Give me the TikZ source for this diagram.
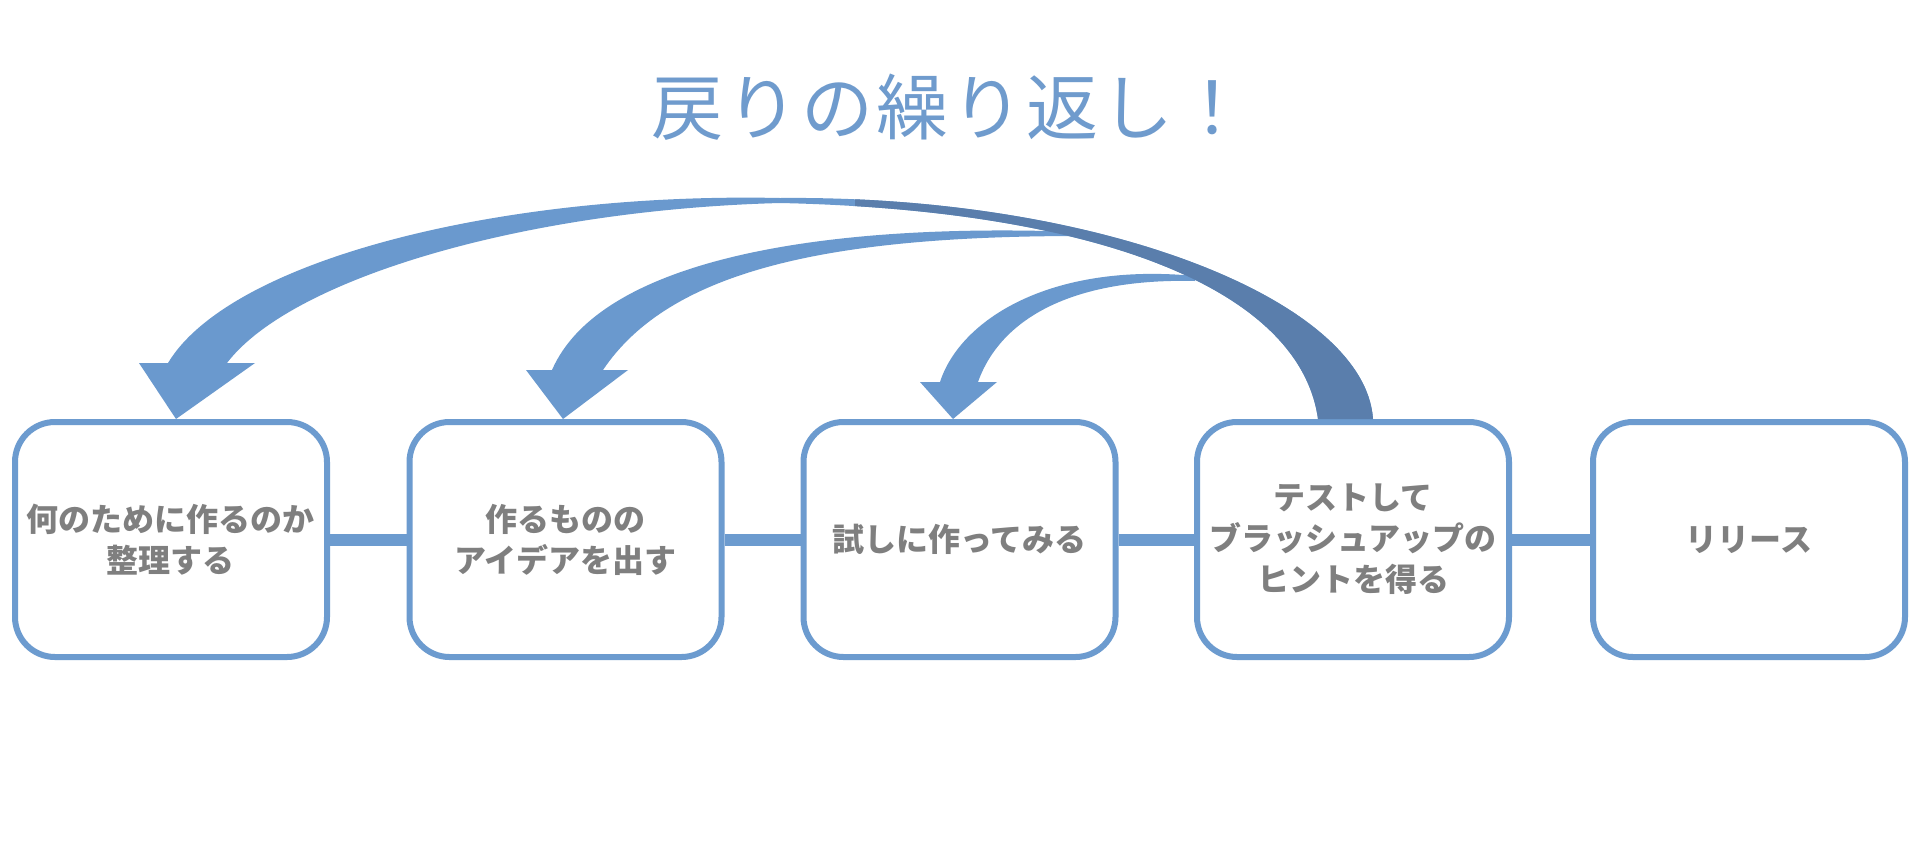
\documentclass[tikz,border=0pt]{standalone}
\usepackage{fontspec}
\newfontfamily\jp{Noto Sans CJK JP}
\definecolor{lightc}{HTML}{6A99CE}
\definecolor{darkc}{HTML}{5A7EAC}
\definecolor{boxc}{HTML}{6C9BCF}
\definecolor{textc}{HTML}{7F7F7F}
\definecolor{titlec}{HTML}{6F9BCD}
\def\pathAone{(1373,419) .. controls (1365,300) and (1100,195) .. (780,198)
 .. controls (500,192) and (230,260) .. (168,363)
 -- (139,363) -- (176,419) -- (255,363) -- (227,363)
 .. controls (290,280) and (520,210) .. (780,203)
 .. controls (1100,210) and (1300,290) .. (1318,419)
 -- cycle}
\begin{document}
\begin{tikzpicture}[x=1pt,y=-1pt,
  stepbox/.style={draw=boxc, line width=6pt, rounded corners=40pt, fill=white,
    minimum width=312pt, minimum height=235pt, inner sep=0pt, align=center,
    text=textc, font=\jp\bfseries\fontsize{32}{41}\selectfont},
  link/.style={draw=boxc, line width=12pt},
  lightarrow/.style={fill=lightc},
  darkarrow/.style={fill=darkc},
]
\fill[white] (0,0) rectangle (1915,847);
\useasboundingbox (0,0) rectangle (1915,847);

\node[text=titlec, font=\jp\fontsize{72}{80}\selectfont] (title) at (950,107)
  {戻\kern3pt り\kern3pt の\kern3pt 繰\kern3pt り\kern3pt 返\kern3pt し\kern3pt ！};

\node[stepbox] (b1) at (171,539.5) {何のために作るのか\\整理する};
\node[stepbox] (b2) at (565.5,539.5) {作るものの\\アイデアを出す};
\node[stepbox] (b3) at (959.5,539.5) {試しに作ってみる};
\node[stepbox] (b4) at (1353,539.5) {テストして\\ブラッシュアップの\\ヒントを得る};
\node[stepbox] (b5) at (1749,539.5) {リリース};

\draw[link] (b1.east) -- (b2.west);
\draw[link] (b2.east) -- (b3.west);
\draw[link] (b3.east) -- (b4.west);
\draw[link] (b4.east) -- (b5.west);

% big arrow to b1
\fill[lightarrow] \pathAone;
% arrow to b2
\fill[lightarrow] (1080,232) .. controls (820,222) and (600,260) .. (552,370)
  -- (526,370) -- (563,419) -- (628,370) -- (603,370)
  .. controls (670,270) and (830,236) .. (1080,236) -- cycle;
% arrow to b3
\fill[lightarrow] (1195,276) .. controls (1050,262) and (960,320) .. (940,382)
  -- (920,382) -- (953,419) -- (997,382) -- (978,382)
  .. controls (1000,320) and (1070,278) .. (1195,281) -- cycle;
% darker tail of the big arrow
\begin{scope}
  \clip (855,150) rectangle (1400,419);
  \fill[darkarrow] \pathAone;
\end{scope}
\end{tikzpicture}
\end{document}
